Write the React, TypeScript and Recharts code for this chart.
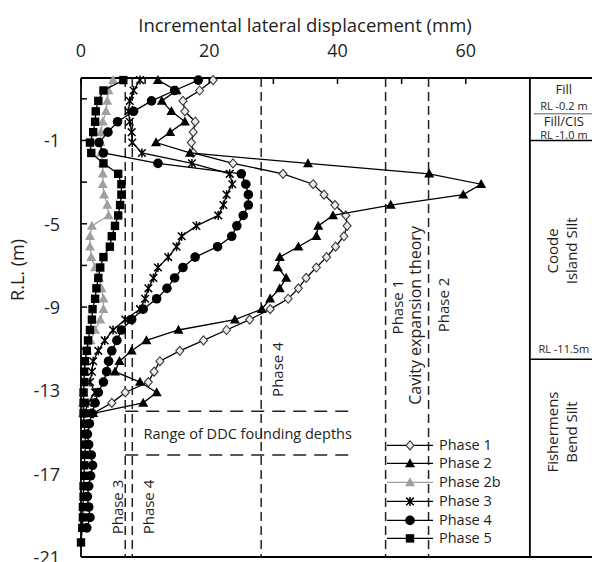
import { ScatterChart, Scatter, XAxis, YAxis, ReferenceLine, ReferenceDot, Legend } from 'recharts'

const FONT = "'Open Sans', sans-serif"
const INK = '#1e1e1e'

// reduced level (m) of each reading, shared by every phase down to RL -14.1
const depthRL = [
  1.9, 1.4, 0.9, 0.4, -0.1, -0.6, -1.1, -1.6, -2.1, -2.6, -3.1, -3.6, -4.1, -4.6, -5.1, -5.6, -6.1,
  -6.6, -7.1, -7.6, -8.1, -8.6, -9.1, -9.6, -10.1, -10.6, -11.1, -11.6, -12.1, -12.6, -13.1, -13.6, -14.1,
]
// deeper readings (phases 4 and 5 only)
const deepRL = [-14.6, -15.1, -15.6, -16.1, -16.6, -17.1, -17.6, -18.1, -18.6, -19.1, -19.6]
const bottomRL = [-20.3]

// incremental lateral displacement (mm)
const phase1 = [
  20.6, 18.5, 15.9, 16.2, 17.8, 17.5, 17.2, 17.5, 23.7, 31.5, 36.2, 37.9, 39.6, 41.3, 41.5, 41.0, 39.7,
  38.3, 36.7, 35.1, 33.9, 32.3, 29.5, 26.3, 22.7, 19.1, 15.4, 12.3, 11.4, 10.5, 6.9, 4.8, 1.9,
]
const phase2 = [
  12.0, 14.9, 12.6, 14.1, 16.2, 13.9, 11.7, 17.0, 35.4, 54.3, 62.4, 59.6, 48.3, 39.3, 37.0, 36.7, 33.9,
  31.0, 30.7, 32.0, 31.0, 29.5, 28.2, 24.0, 15.2, 10.2, 7.9, 6.0, 5.3, 9.2, 11.8, 9.7, 1.9,
]
const phase2b = [
  5.0, 4.3, 4.1, 3.9, 3.4, 3.1, 3.0, 3.1, 3.4, 3.4, 3.4, 3.6, 4.1, 4.3, 1.7, 1.4, 1.4,
  1.6, 2.2, 2.8, 3.2, 3.5, 3.5, 3.0, 2.2, 1.5, 1.0, 0.8, 0.6, 0.5, 0.4, 0.3, 0.3,
]
const phase3 = [
  9.2, 8.2, 7.6, 7.4, 7.6, 7.9, 8.0, 9.5, 17.3, 23.2, 23.6, 22.7, 22.2, 21.4, 18.0, 15.7, 14.9,
  13.6, 12.0, 11.3, 10.5, 10.0, 9.2, 6.9, 5.0, 3.7, 2.7, 1.9, 1.7, 1.4, 2.2, 1.1, 0.6,
]
const phase4 = [
  18.3, 14.6, 11.0, 8.2, 5.7, 4.2, 2.8, 3.5, 12.0, 25.0, 25.7, 26.1, 26.1, 25.3, 24.3, 23.5, 21.3,
  17.8, 15.9, 14.6, 13.4, 11.8, 9.7, 7.9, 6.3, 5.6, 4.8, 4.3, 4.0, 3.5, 2.7, 2.2, 1.7,
]
const phase4Deep = [1.3, 1.0, 1.2, 1.6, 1.8, 1.5, 1.2, 1.0, 1.2, 1.4, 0.9]
const phase5 = [
  6.6, 3.5, 2.7, 2.3, 2.2, 1.9, 1.4, 1.6, 3.5, 5.8, 6.3, 6.3, 6.1, 5.8, 5.3, 4.8, 4.5,
  3.5, 3.0, 2.7, 2.4, 2.2, 1.8, 1.7, 1.4, 1.1, 0.9, 0.6, 0.5, 0.5, 0.4, 0.4, 0.4,
]
const phase5Deep = [0.5, 0.6, 0.7, 0.6, 0.5, 0.5, 0.4, 0.4, 0.3, 0.3, 0.2, 0.0]

const xTicks = [0, 10, 20, 30, 40, 50, 60]
const xTickLabels = [0, 20, 40, 60]
const yTicks = [1, -1, -3, -5, -7, -9, -11, -13, -15, -17, -19, -21]
const yTickLabels = [-1, -5, -9, -13, -17, -21]

const toPoints = (rl: number[], mm: number[]) => mm.map((v, i) => ({ x: v, y: rl[i] }))

const series = [
  { name: 'Phase 1', kind: 'diamond', color: '#000', data: toPoints(depthRL, phase1) },
  { name: 'Phase 2', kind: 'triangle', color: '#000', data: toPoints(depthRL, phase2) },
  { name: 'Phase 2b', kind: 'triangle', color: '#a0a0a0', data: toPoints(depthRL, phase2b) },
  { name: 'Phase 3', kind: 'star', color: '#000', data: toPoints(depthRL, phase3) },
  { name: 'Phase 4', kind: 'circle', color: '#000', data: toPoints([...depthRL, ...deepRL], [...phase4, ...phase4Deep]) },
  {
    name: 'Phase 5',
    kind: 'square',
    color: '#000',
    data: toPoints([...depthRL, ...deepRL, ...bottomRL], [...phase5, ...phase5Deep]),
  },
]

function Marker({ cx, cy, kind, color }: any) {
  if (cx == null || cy == null) return null
  switch (kind) {
    case 'diamond':
      return (
        <path
          d={`M${cx},${cy - 4.5}L${cx + 4},${cy}L${cx},${cy + 4.5}L${cx - 4},${cy}Z`}
          fill="#ececec"
          stroke="#3a3a3a"
          strokeWidth={1.1}
        />
      )
    case 'triangle':
      return <path d={`M${cx},${cy - 5.2}L${cx + 5},${cy + 3.8}L${cx - 5},${cy + 3.8}Z`} fill={color} />
    case 'star':
      return (
        <path
          d={`M${cx - 3.8},${cy - 3.8}L${cx + 3.8},${cy + 3.8}M${cx + 3.8},${cy - 3.8}L${cx - 3.8},${cy + 3.8}M${cx},${cy - 4.5}L${cx},${cy + 4.5}`}
          stroke={color}
          strokeWidth={1.5}
          fill="none"
        />
      )
    case 'circle':
      return <circle cx={cx} cy={cy} r={4.8} fill={color} />
    default:
      return <rect x={cx - 4.2} y={cy - 4.2} width={8.4} height={8.4} fill={color} />
  }
}

const TopTick = ({ x, y, payload }: any) => (
  <g>
    <line x1={x} y1={y} x2={x} y2={y + 6} stroke="#000" strokeWidth={1.5} />
    {xTickLabels.includes(payload.value) && (
      <text x={x} y={y - 28} textAnchor="middle" dominantBaseline="central" fontSize={18} fontFamily={FONT} fill={INK}>
        {payload.value}
      </text>
    )}
  </g>
)

const LeftTick = ({ x, y, payload }: any) => (
  <g>
    <line x1={x} y1={y} x2={x + 6} y2={y} stroke="#000" strokeWidth={1.5} />
    {yTickLabels.includes(payload.value) && (
      <text x={x - 21} y={y} textAnchor="end" dominantBaseline="central" fontSize={18} fontFamily={FONT} fill={INK}>
        {payload.value}
      </text>
    )}
  </g>
)

const XTitle = ({ viewBox }: any) => (
  <text
    x={viewBox.x + 224}
    y={viewBox.y - 24}
    textAnchor="middle"
    dominantBaseline="central"
    fontSize={18.5}
    fontFamily={FONT}
    fill={INK}
  >
    Incremental lateral displacement (mm)
  </text>
)

const YTitle = ({ viewBox }: any) => {
  const x = viewBox.x - 23
  const y = viewBox.y + 192
  return (
    <text
      x={x}
      y={y}
      transform={`rotate(-90 ${x} ${y})`}
      textAnchor="middle"
      dominantBaseline="central"
      fontSize={18}
      fontFamily={FONT}
      fill={INK}
    >
      R.L. (m)
    </text>
  )
}

// text placed at a data point; several lines stack across the reading direction
const Note = ({ viewBox, lines, rot = 0, size = 15, gap = 19, underline = false }: any) => {
  const x = viewBox.x + (viewBox.width || 0) / 2
  const y = viewBox.y + (viewBox.height || 0) / 2
  const first = -((lines.length - 1) * gap) / 2
  return (
    <text
      x={x}
      y={y}
      transform={rot ? `rotate(${rot} ${x} ${y})` : undefined}
      textAnchor="middle"
      fontSize={size}
      fontFamily={FONT}
      fill={INK}
      textDecoration={underline ? 'underline' : undefined}
    >
      {lines.map((t: string, i: number) => (
        <tspan key={t} x={x} dy={i === 0 ? first : gap} dominantBaseline="central">
          {t}
        </tspan>
      ))}
    </text>
  )
}

const note = (x: number, y: number, props: any) => (
  <ReferenceDot
    key={props.lines.join('-') + x}
    x={x}
    y={y}
    r={0}
    fill="none"
    stroke="none"
    ifOverflow="visible"
    label={<Note {...props} />}
  />
)

const renderLegend = () => (
  <div style={{ fontFamily: FONT, fontSize: 14.5, color: INK }}>
    {series.map((s) => (
      <div key={s.name} style={{ display: 'flex', alignItems: 'center', height: 18.75 }}>
        <svg width={48} height={18.75} style={{ display: 'block' }}>
          <line x1={0} x2={46} y1={9.4} y2={9.4} stroke={s.color} strokeWidth={1.3} />
          <Marker cx={23} cy={9.4} kind={s.kind} color={s.color} />
        </svg>
        <span style={{ marginLeft: 4, lineHeight: '18.75px', whiteSpace: 'nowrap' }}>{s.name}</span>
      </div>
    ))}
  </div>
)

const dash = { stroke: '#222', strokeWidth: 1.5, strokeDasharray: '9 5' }

export default function App() {
  return (
    <div style={{ position: 'absolute', left: 0, top: 0, width: 592, height: 562, overflow: 'hidden', background: '#fff' }}>
      <ScatterChart width={600} height={562} margin={{ top: 48, right: 6, bottom: 5, left: 40 }}>
        <XAxis
          type="number"
          dataKey="x"
          orientation="top"
          domain={[0, 80]}
          ticks={xTicks}
          interval={0}
          height={30}
          axisLine={{ stroke: '#000', strokeWidth: 1.8 }}
          tickLine={false}
          tickSize={0}
          tickMargin={0}
          tick={(p: any) => <TopTick {...p} />}
          label={<XTitle />}
        />
        <YAxis
          type="number"
          dataKey="y"
          domain={[-21, 2]}
          ticks={yTicks}
          interval={0}
          width={41}
          axisLine={{ stroke: '#000', strokeWidth: 1.8 }}
          tickLine={false}
          tickSize={0}
          tickMargin={0}
          tick={(p: any) => <LeftTick {...p} />}
          label={<YTitle />}
        />

        {/* bottom frame and soil column */}
        <ReferenceLine y={-21} stroke="#000" strokeWidth={1.8} />
        <ReferenceLine x={70} stroke="#000" strokeWidth={1.8} />
        <ReferenceLine segment={[{ x: 70, y: -1 }, { x: 80, y: -1 }]} stroke="#000" strokeWidth={1.5} />
        <ReferenceLine segment={[{ x: 70, y: -11.5 }, { x: 80, y: -11.5 }]} stroke="#000" strokeWidth={1.5} />

        {/* predicted displacements */}
        <ReferenceLine x={6.9} {...dash} />
        <ReferenceLine x={8.0} {...dash} />
        <ReferenceLine x={28.1} {...dash} />
        <ReferenceLine x={47.5} {...dash} />
        <ReferenceLine x={54.2} {...dash} />
        <ReferenceLine segment={[{ x: 6.9, y: -14 }, { x: 42.5, y: -14 }]} {...dash} strokeDasharray="13 8" />
        <ReferenceLine segment={[{ x: 6.9, y: -16.1 }, { x: 42.5, y: -16.1 }]} {...dash} strokeDasharray="13 8" />

        {series.map((s) => (
          <Scatter
            key={s.name}
            name={s.name}
            data={s.data}
            line={{ stroke: s.color, strokeWidth: 1.3 }}
            lineType="joint"
            shape={(p: any) => <Marker cx={p.cx} cy={p.cy} kind={s.kind} color={s.color} />}
            isAnimationActive={false}
          />
        ))}

        {note(5.6, -18.6, { lines: ['Phase 3'], rot: -90 })}
        {note(10.4, -18.6, { lines: ['Phase 4'], rot: -90 })}
        {note(30.6, -12.0, { lines: ['Phase 4'], rot: -90 })}
        {note(49.3, -9.0, { lines: ['Phase 1'], rot: -90 })}
        {note(52.1, -9.4, { lines: ['Cavity expansion theory'], rot: -90, size: 16 })}
        {note(56.4, -8.9, { lines: ['Phase 2'], rot: -90 })}
        {note(26.0, -15.05, { lines: ['Range of DDC founding depths'], size: 14.5 })}

        {note(75.3, 1.45, { lines: ['Fill'], size: 13 })}
        {note(75.3, 0.7, { lines: ['RL -0.2 m'], size: 11 })}
        <ReferenceLine segment={[{ x: 70.6, y: 0.28 }, { x: 80, y: 0.28 }]} stroke="#333" strokeWidth={0.8} />
        {note(75.3, -0.08, { lines: ['Fill/CIS'], size: 13 })}
        {note(75.3, -0.72, { lines: ['RL -1.0 m'], size: 11 })}
        {note(75.0, -6.3, { lines: ['Coode', 'Island Silt'], rot: -90, size: 15 })}
        {note(75.3, -11.0, { lines: ['RL -11.5m'], size: 11 })}
        {note(75.0, -15.0, { lines: ['Fishermens', 'Bend Silt'], rot: -90, size: 15 })}

        <Legend
          layout="vertical"
          align="center"
          verticalAlign="middle"
          content={renderLegend}
          wrapperStyle={{ left: 387, top: 435.6, width: 140 }}
        />
      </ScatterChart>
    </div>
  )
}
